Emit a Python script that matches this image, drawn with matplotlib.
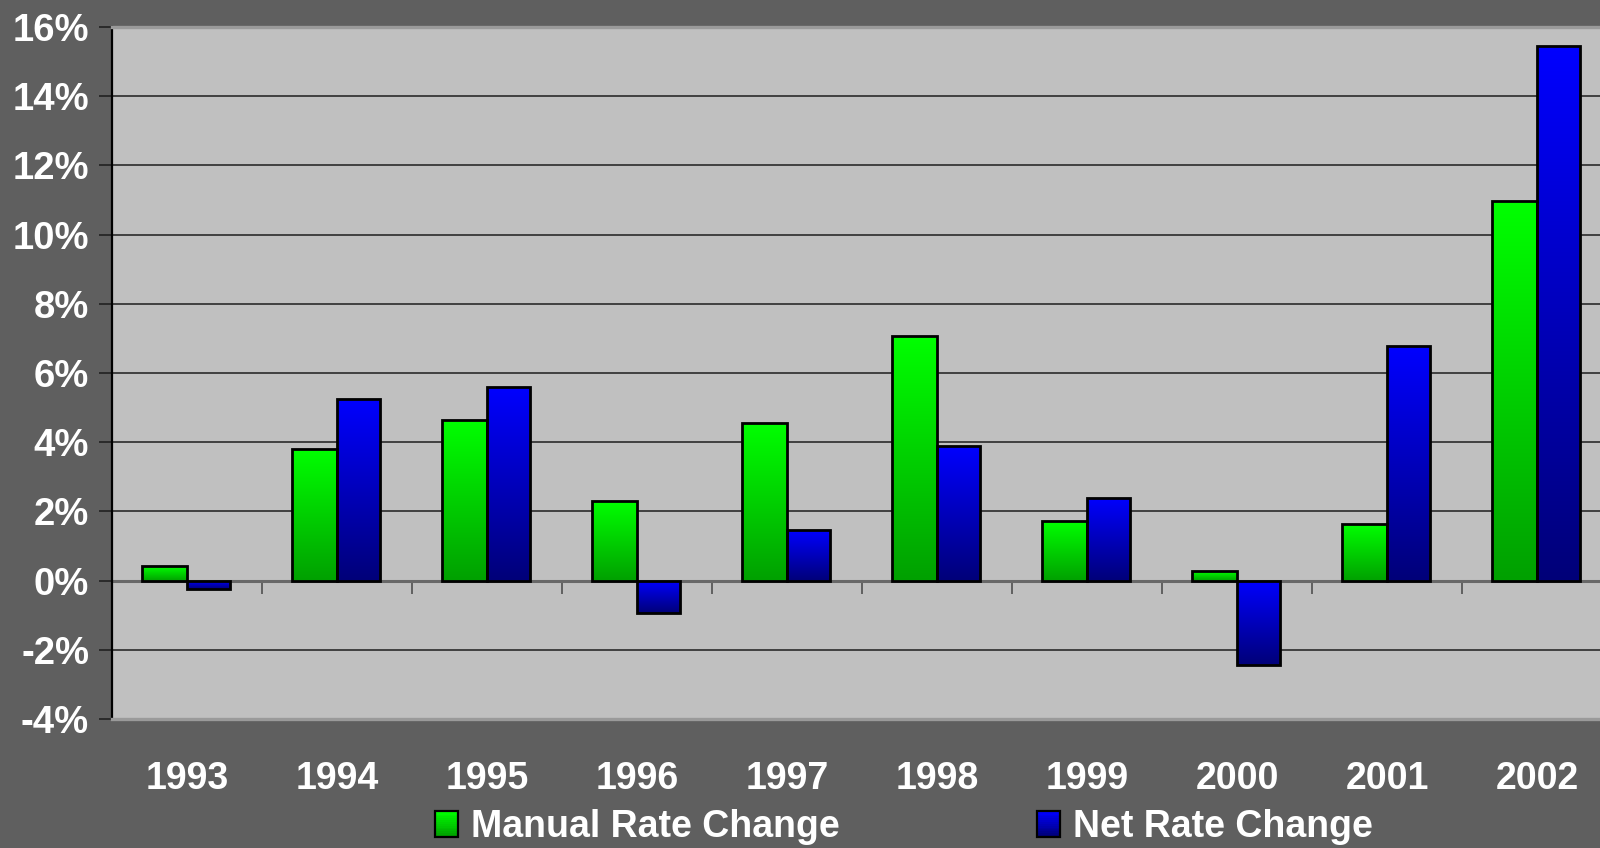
import numpy as np
import matplotlib
matplotlib.use("Agg")
import matplotlib.pyplot as plt
from matplotlib.colors import LinearSegmentedColormap
from matplotlib.patches import Rectangle
from matplotlib.legend_handler import HandlerBase
from matplotlib.ticker import FuncFormatter

# ---- data -------------------------------------------------------------
years = ["1993", "1994", "1995", "1996", "1997",
         "1998", "1999", "2000", "2001", "2002"]
manual_rate_change = [0.43, 3.79, 4.64, 2.31, 4.56, 7.07, 1.72, 0.27, 1.63, 10.98]
net_rate_change = [-0.25, 5.24, 5.59, -0.95, 1.45, 3.88, 2.40, -2.43, 6.78, 15.46]
series_labels = ["Manual Rate Change", "Net Rate Change"]
y_ticks = [-4, -2, 0, 2, 4, 6, 8, 10, 12, 14, 16]

# ---- style ------------------------------------------------------------
plt.rcParams["font.family"] = ["Liberation Sans", "DejaVu Sans"]
plt.rcParams["font.weight"] = "bold"

FIG_BG = "#5f5f5f"
PLOT_BG = "#c0c0c0"
GREEN = ("#00ff00", "#00a000")   # (top, bottom)
BLUE = ("#0000ff", "#000078")

fig = plt.figure(figsize=(16, 8.48), dpi=100, facecolor=FIG_BG)
ax = fig.add_axes([112 / 1600, 129 / 848, 1500 / 1600, 692 / 848])
ax.set_facecolor(PLOT_BG)

x = np.arange(len(years))
w_manual = 0.30
w_net = 0.285


def gradient_fill(ax, bars, colors):
    """Replace the flat fill of each bar by a vertical top-to-bottom gradient."""
    cmap = LinearSegmentedColormap.from_list("grad", [colors[1], colors[0]])
    grad = np.linspace(0, 1, 256).reshape(-1, 1)
    for b in bars:
        x0, y0 = b.get_x(), b.get_y()
        w, h = b.get_width(), b.get_height()
        lo, hi = min(y0, y0 + h), max(y0, y0 + h)
        im = ax.imshow(grad, cmap=cmap, origin="lower", aspect="auto",
                       extent=[x0, x0 + w, lo, hi], interpolation="bilinear",
                       zorder=b.get_zorder() - 0.1)
        im.set_clip_path(b)
        b.set_facecolor("none")


bars_manual = ax.bar(x, manual_rate_change, -w_manual, align="edge",
                     edgecolor="black", linewidth=2.0, zorder=3)
bars_net = ax.bar(x, net_rate_change, w_net, align="edge",
                  edgecolor="black", linewidth=2.0, zorder=3)
gradient_fill(ax, bars_manual, GREEN)
gradient_fill(ax, bars_net, BLUE)

ax.set_xlim(-0.5, len(years) - 0.5)
ax.set_ylim(y_ticks[0], y_ticks[-1])

# gridlines and zero line
ax.set_axisbelow(True)
ax.yaxis.grid(True, color="#1e1e1e", linewidth=1.1)
ax.axhline(0, color="#686868", linewidth=2.2, zorder=2)

# y axis
ax.set_yticks(y_ticks)
ax.yaxis.set_major_formatter(FuncFormatter(lambda v, _: f"{v:.0f}%"))
ax.tick_params(axis="y", length=9.5, width=1.4, color="#2a2a2a", pad=7,
               labelsize=27.5, labelcolor="white")

# x axis: category labels below the plot area
ax.set_xticks(x, years)
ax.tick_params(axis="x", length=0, pad=30, labelsize=27, labelcolor="white")

# category separators hanging from the zero line
ymin, ymax = ax.get_ylim()
sec = ax.secondary_xaxis((0 - ymin) / (ymax - ymin))
sec.set_xticks(x[:-1] + 0.5)
sec.xaxis.set_ticks_position("bottom")
sec.tick_params(axis="x", direction="out", length=9, width=1.4,
                color="#606060", labelbottom=False, labeltop=False)
for s in sec.spines.values():
    s.set_visible(False)

# frame
ax.spines["left"].set_color("black")
ax.spines["left"].set_linewidth(1.6)
ax.spines["right"].set_visible(False)
for side in ("top", "bottom"):
    ax.spines[side].set_color("#9a9a9a")
    ax.spines[side].set_linewidth(2.4)


# ---- legend with gradient swatches -----------------------------------
class GradientSwatch(HandlerBase):
    def __init__(self, colors, n=14):
        super().__init__()
        self.cmap = LinearSegmentedColormap.from_list("sw", [colors[1], colors[0]])
        self.n = n

    def create_artists(self, legend, orig_handle, xdescent, ydescent,
                       width, height, fontsize, trans):
        x0, y0 = -xdescent, -ydescent
        arts = []
        for i in range(self.n):
            arts.append(Rectangle((x0, y0 + height * i / self.n), width,
                                  height / self.n + 0.3,
                                  facecolor=self.cmap(i / (self.n - 1)),
                                  edgecolor="none", transform=trans))
        arts.append(Rectangle((x0, y0), width, height, facecolor="none",
                              edgecolor="black", linewidth=1.6, transform=trans))
        return arts


legend_y = 1 - 827 / 848
for bars, colors, label, left in ((bars_manual, GREEN, series_labels[0], 435),
                                  (bars_net, BLUE, series_labels[1], 1037)):
    fig.legend([bars], [label], loc="center left",
               bbox_to_anchor=(left / 1600, legend_y), frameon=False,
               borderpad=0, borderaxespad=0, handlelength=0.62,
               handleheight=0.68, handletextpad=0.34,
               handler_map={bars: GradientSwatch(colors)},
               prop={"size": 27, "weight": "bold"}, labelcolor="white")

fig.savefig("out.png", dpi=100, facecolor=FIG_BG)
